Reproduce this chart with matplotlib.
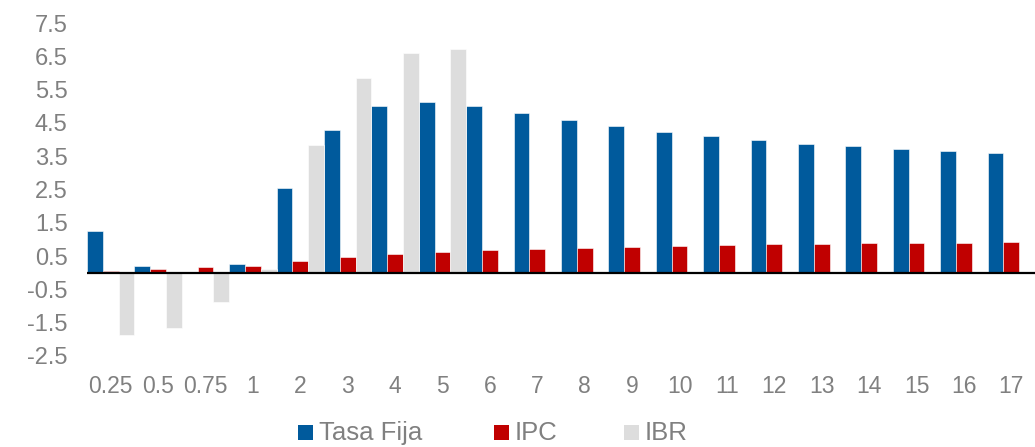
import numpy as np
import matplotlib
matplotlib.use("Agg")
import matplotlib.pyplot as plt
from matplotlib.patches import Rectangle

plt.rcParams['font.family'] = ['Liberation Sans', 'DejaVu Sans']

# Plazos (años)
plazos = ["0.25", "0.5", "0.75", "1", "2", "3", "4", "5", "6", "7", "8", "9",
          "10", "11", "12", "13", "14", "15", "16", "17"]

tasa_fija = [1.26, 0.21, 0.0, 0.27, 2.55, 4.29, 5.02, 5.14, 5.02, 4.80, 4.60, 4.40,
             4.24, 4.10, 3.99, 3.88, 3.80, 3.72, 3.66, 3.61]
ipc = [0.06, 0.12, 0.17, 0.21, 0.36, 0.47, 0.56, 0.62, 0.67, 0.72, 0.75, 0.78,
       0.81, 0.84, 0.85, 0.87, 0.88, 0.90, 0.90, 0.91]
ibr = [-1.86, -1.66, -0.89, 0.11, 3.85, 5.85, 6.60, 6.72, np.nan, np.nan, np.nan, np.nan,
       np.nan, np.nan, np.nan, np.nan, np.nan, np.nan, np.nan, np.nan]

series = ["Tasa Fija", "IPC", "IBR"]
colors = ["#005A9C", "#C00000", "#DDDDDD"]
y_ticks = [7.5, 6.5, 5.5, 4.5, 3.5, 2.5, 1.5, 0.5, -0.5, -1.5, -2.5]

W, H = 1035, 447
fig = plt.figure(figsize=(W / 100, H / 100), dpi=100)
ax = fig.add_axes([87 / W, 1 - 356 / H, (W - 87) / W, (356 - 23) / H])

x = np.arange(len(plazos))
bw = 1 / 3
for i, (vals, c) in enumerate(zip([tasa_fija, ipc, ibr], colors)):
    ax.bar(x - 0.5 + bw * (i + 0.5), vals, width=bw, color=c,
           edgecolor="white", linewidth=0.4, zorder=2)

ax.set_xlim(-0.5, len(plazos) - 0.5)
ax.set_ylim(-2.5, 7.5)
ax.axhline(0, color="black", linewidth=1.6, zorder=3)

ax.set_yticks(y_ticks)
ax.set_yticklabels([f"{v:g}" for v in y_ticks])
ax.set_xticks(x)
ax.set_xticklabels(plazos)
ax.tick_params(axis="y", length=0, pad=14, labelsize=17, labelcolor="#808080")
ax.tick_params(axis="x", length=0, pad=14, labelsize=16.5, labelcolor="#808080")
for s in ax.spines.values():
    s.set_visible(False)

# Leyenda inferior: cuadro de color + etiqueta
legend_x = [298, 494, 624]
for lx, name, c in zip(legend_x, series, colors):
    fig.patches.append(Rectangle((lx / W, 1 - 440 / H), 15 / W, 15 / H,
                                 transform=fig.transFigure, facecolor=c,
                                 edgecolor="none"))
    fig.text((lx + 21) / W, 1 - 433 / H, name, fontsize=18.5, color="#808080",
             ha="left", va="center")

fig.savefig("out.png", dpi=100)
